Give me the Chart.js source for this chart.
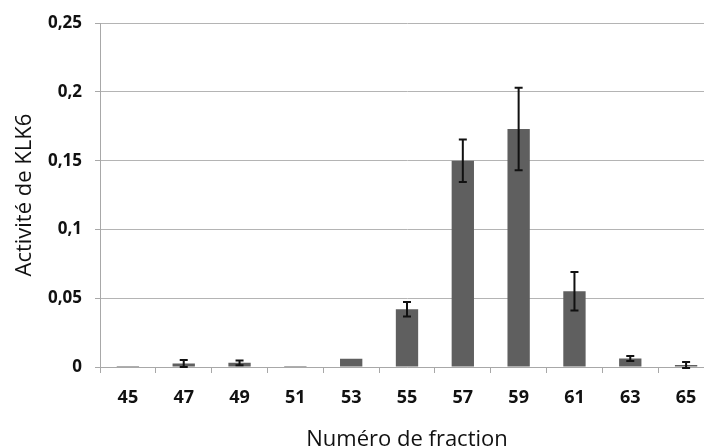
<!DOCTYPE html>
<html>
<head>
<meta charset="utf-8">
<script src="https://cdn.jsdelivr.net/npm/chart.js@4/dist/chart.umd.min.js"></script>
<style>
html,body{margin:0;padding:0;overflow:hidden;background:#fff;width:704px;height:448px;}
canvas{display:block;}
</style>
</head>
<body>
<canvas id="c" width="720" height="448"></canvas>
<script>
const categories = ['45','47','49','51','53','55','57','59','61','63','65'];
const activity = [0.0008, 0.0025, 0.003, 0.0008, 0.006, 0.042, 0.150, 0.173, 0.055, 0.0062, 0.0014];
const errors   = [0, 0.0025, 0.0018, 0, 0, 0.0052, 0.0155, 0.030, 0.014, 0.0018, 0.0022];
const yTicks = [0, 0.05, 0.1, 0.15, 0.2, 0.25];
const xTitle = 'Numéro de fraction';
const yTitle = 'Activité de KLK6';

const FONT = "'Open Sans', 'Liberation Sans', sans-serif";

const errorBars = {
  id: 'errorBars',
  afterDatasetsDraw(chart) {
    const meta = chart.getDatasetMeta(0);
    const y = chart.scales.y;
    const ctx = chart.ctx;
    ctx.save();
    ctx.strokeStyle = '#111';
    ctx.lineWidth = 2;
    meta.data.forEach((bar, i) => {
      const e = errors[i];
      if (!e) return;
      const v = activity[i];
      const x = bar.x;
      const yt = y.getPixelForValue(v + e);
      const yb = y.getPixelForValue(v - e);
      ctx.beginPath();
      ctx.moveTo(x, yt); ctx.lineTo(x, yb);
      ctx.moveTo(x - 4, yt); ctx.lineTo(x + 4, yt);
      ctx.moveTo(x - 4, yb); ctx.lineTo(x + 4, yb);
      ctx.stroke();
    });
    ctx.restore();
  }
};

const axisTitles = {
  id: 'axisTitles',
  afterDraw(chart) {
    const ctx = chart.ctx;
    const a = chart.chartArea;
    ctx.save();
    ctx.fillStyle = '#111';
    ctx.font = "22px " + FONT;
    ctx.textAlign = 'center';
    ctx.textBaseline = 'alphabetic';
    ctx.fillText(xTitle, (a.left + a.right) / 2, 446);
    ctx.translate(31, (a.top + a.bottom) / 2);
    ctx.rotate(-Math.PI / 2);
    ctx.fillText(yTitle, 0, 0);
    ctx.restore();
  }
};

new Chart(document.getElementById('c'), {
  type: 'bar',
  data: {
    labels: categories,
    datasets: [{
      data: activity,
      backgroundColor: '#5f5f5f',
      borderWidth: 0,
      categoryPercentage: 1.0,
      barPercentage: 0.4
    }]
  },
  options: {
    responsive: false,
    animation: false,
    devicePixelRatio: 1,
    layout: { padding: { top: 20, right: 6, left: 0, bottom: 0 } },
    plugins: { legend: { display: false }, tooltip: { enabled: false } },
    scales: {
      x: {
        grid: { display: true, drawOnChartArea: false, drawTicks: true, tickLength: 6, color: '#a8a8a8', offset: true },
        border: { color: '#a8a8a8', width: 1 },
        ticks: { color: '#111', font: { family: FONT, size: 18, weight: 'bold' }, padding: 14, maxRotation: 0 },
        afterFit(s) { s.height = 81; }
      },
      y: {
        min: 0, max: 0.25,
        afterBuildTicks(s) { s.ticks = yTicks.map(v => ({ value: v })); },
        grid: { color: '#b4b4b4', tickLength: 5, tickColor: '#a8a8a8' },
        border: { color: '#a8a8a8', width: 1 },
        ticks: {
          color: '#111', font: { family: FONT, size: 17, weight: 'bold' }, padding: 13,
          callback: v => String(v).replace('.', ',')
        },
        afterFit(s) { s.width = 100; }
      }
    }
  },
  plugins: [errorBars, axisTitles]
});
</script>
</body>
</html>
